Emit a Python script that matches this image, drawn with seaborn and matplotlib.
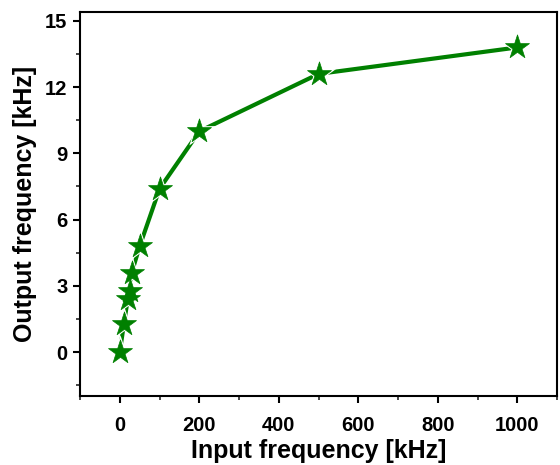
import matplotlib
matplotlib.use('Agg')
import matplotlib.pyplot as plt
import seaborn as sns
import pandas as pd
from matplotlib.ticker import MultipleLocator

# Data
input_khz = [0, 10, 20, 25, 30, 50, 100, 200, 500, 1000]
output_khz = [0, 1.25, 2.4, 2.75, 3.6, 4.8, 7.4, 10.0, 12.6, 13.8]

df = pd.DataFrame({'x': input_khz, 'y': output_khz})

sns.set_style("ticks")
plt.rcParams['font.family'] = ['Liberation Sans', 'DejaVu Sans']
plt.rcParams['font.weight'] = 'bold'
plt.rcParams['text.color'] = 'black'
plt.rcParams['axes.labelcolor'] = 'black'

fig = plt.figure(figsize=(5.6, 4.65), dpi=100)
ax = fig.add_axes([0.143, 0.148, 0.852, 0.826])

# line, then white halos (gap around symbols), then the green stars
sns.lineplot(data=df, x='x', y='y', color='green', linewidth=3,
             sort=False, ax=ax)
sns.scatterplot(data=df, x='x', y='y', marker='*', s=620, color='white',
                edgecolor='white', linewidth=0, ax=ax, zorder=3)
sns.scatterplot(data=df, x='x', y='y', marker='*', s=330, color='green',
                edgecolor='green', linewidth=0.5, ax=ax, zorder=4)

ax.set_xlim(-100, 1100)
ax.set_ylim(-2, 15.4)
ax.xaxis.set_major_locator(MultipleLocator(200))
ax.xaxis.set_minor_locator(MultipleLocator(100))
ax.yaxis.set_major_locator(MultipleLocator(3))
ax.yaxis.set_minor_locator(MultipleLocator(1.5))

for s in ax.spines.values():
    s.set_visible(True)
    s.set_linewidth(1.5)
    s.set_color('black')

ax.tick_params(which='major', direction='out', length=5, width=1.5,
               labelsize=14.5, colors='black', pad=4)
ax.tick_params(axis='x', which='major', pad=9.5)
ax.tick_params(which='minor', direction='out', length=3, width=1.2)
for lab in ax.get_xticklabels() + ax.get_yticklabels():
    lab.set_fontweight('bold')

ax.set_xlabel('Input frequency [kHz]', fontsize=18, fontweight='bold',
              color='black', labelpad=2.5)
ax.set_ylabel('Output frequency [kHz]', fontsize=18, fontweight='bold',
              color='black', labelpad=6)

fig.savefig('out.png', dpi=100)
